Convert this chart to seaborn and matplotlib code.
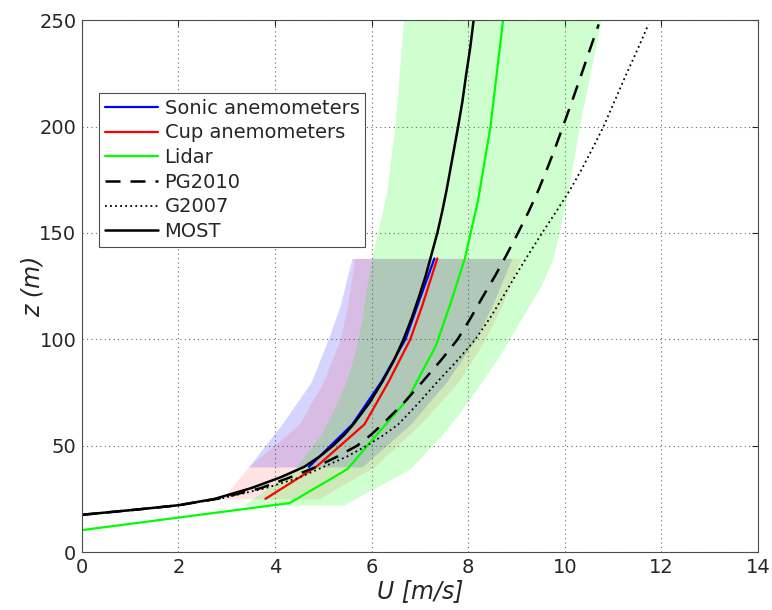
import matplotlib
matplotlib.use("Agg")
import matplotlib.pyplot as plt
import numpy as np
import pandas as pd
import seaborn as sns

# measured profiles (U in m/s, z in m)
sonic_z = [40, 60, 80, 100, 116, 138]
sonic_u = [4.7, 5.6, 6.2, 6.7, 6.95, 7.3]
sonic_lo = [3.45, 4.14, 4.75, 5.1, 5.35, 5.59]
sonic_hi = [5.8, 6.8, 7.55, 8.15, 8.5, 8.9]

cup_z = [25, 40, 60, 80, 100, 116, 138]
cup_u = [3.8, 4.85, 5.85, 6.35, 6.8, 7.05, 7.36]
cup_lo = [2.9, 3.45, 4.5, 5.0, 5.35, 5.5, 5.65]
cup_hi = [4.9, 6.05, 7.0, 7.8, 8.35, 8.7, 9.08]

lidar_z = [10.3, 23, 39, 55, 72, 85, 97, 118, 138, 165, 200, 250]
lidar_u = [0.0, 4.3, 5.5, 6.1, 6.75, 7.05, 7.33, 7.65, 7.93, 8.2, 8.46, 8.72]
lidar_band_z = [22, 39, 55, 66, 79, 93, 109, 125, 137, 150, 168, 200, 250]
lidar_lo = [3.35, 4.4, 4.95, 5.2, 5.45, 5.65, 5.8, 5.9, 6.0, 6.12, 6.3, 6.48, 6.66]
lidar_hi = [5.41, 6.79, 7.45, 7.84, 8.25, 8.67, 9.08, 9.5, 9.74, 9.88, 10.05, 10.3, 10.75]

# model profiles
model_z = [17.5, 20, 22, 25, 30, 35, 40, 45, 50, 55, 60, 70, 80, 90, 100, 110, 120, 130,
           140, 150, 160, 170, 180, 190, 200, 212, 225, 237, 248]
most_u = [0, 1.15, 2.0, 2.75, 3.5, 4.1, 4.6, 4.93, 5.2, 5.43, 5.62, 5.95, 6.22, 6.46, 6.66,
          6.83, 6.98, 7.12, 7.24, 7.36, 7.46, 7.55, 7.63, 7.71, 7.79, 7.88, 7.96, 8.04, 8.1]
pg2010_u = [0, 1.15, 2.0, 2.8, 3.7, 4.3, 4.85, 5.3, 5.7, 5.98, 6.22, 6.66, 7.05, 7.43, 7.78,
            8.05, 8.3, 8.56, 8.8, 9.03, 9.25, 9.45, 9.63, 9.8, 9.96, 10.15, 10.35, 10.53, 10.7]
g2007_u = [0, 1.15, 2.0, 2.85, 3.8, 4.5, 5.0, 5.5, 5.9, 6.25, 6.55, 6.97, 7.36, 7.77, 8.15,
           8.45, 8.72, 8.98, 9.25, 9.53, 9.82, 10.1, 10.35, 10.58, 10.8, 11.03, 11.28, 11.52, 11.73]
most_top_z = 260
most_top_u = 8.16

sns.set_style("white")
plt.rcParams['font.family'] = ['DejaVu Sans']

fig = plt.figure(figsize=(7.72, 6.10), dpi=100)
ax = fig.add_axes([0.106, 0.095, 0.876, 0.872])

# shaded bands
ax.fill_betweenx(sonic_z, sonic_lo, sonic_hi, color=(0, 0, 1), alpha=0.17, lw=0)
ax.fill_betweenx(cup_z, cup_lo, cup_hi, color=(1, 0, 0), alpha=0.11, lw=0)
ax.fill_betweenx(lidar_band_z, lidar_lo, lidar_hi, color=(0, 1, 0), alpha=0.19, lw=0)

sns.lineplot(x=sonic_u, y=sonic_z, sort=False, estimator=None, color=(0, 0, 1),
             lw=1.6, ax=ax, label="Sonic anemometers")
sns.lineplot(x=cup_u, y=cup_z, sort=False, estimator=None, color=(1, 0, 0),
             lw=1.6, ax=ax, label="Cup anemometers")
sns.lineplot(x=lidar_u, y=lidar_z, sort=False, estimator=None, color=(0, 1, 0),
             lw=1.6, ax=ax, label="Lidar")
sns.lineplot(x=pg2010_u, y=model_z, sort=False, estimator=None, color="black",
             lw=1.8, ax=ax, label="PG2010")
ax.lines[-1].set_dashes([6, 4])
sns.lineplot(x=g2007_u, y=model_z, sort=False, estimator=None, color="black",
             lw=1.3, ax=ax, label="G2007")
ax.lines[-1].set_dashes([1, 1.8])
sns.lineplot(x=most_u + [most_top_u], y=model_z + [most_top_z], sort=False, estimator=None,
             color="black", lw=1.8, ax=ax, label="MOST")

ax.set_xlim(0, 14)
ax.set_ylim(0, 250)
ax.set_xticks(np.arange(0, 15, 2))
ax.set_yticks(np.arange(0, 251, 50))
ax.grid(True, linestyle=(0, (1, 3)), color="0.4", lw=0.8)
ax.tick_params(direction="in", length=4, labelsize=14, top=True, right=True, pad=4)
for sp in ax.spines.values():
    sp.set_color("0.3")
    sp.set_linewidth(0.8)

ax.set_xlabel("U [m/s]", fontsize=17, style="italic", labelpad=2)
ax.set_ylabel("z (m)", fontsize=17, style="italic")
ax.yaxis.set_label_coords(-0.055, 0.5)

leg = ax.legend(loc="upper left", bbox_to_anchor=(0.026, 0.863), fontsize=14,
                handlelength=2.7, labelspacing=0.29, borderpad=0.3, handletextpad=0.35,
                fancybox=False, framealpha=1, edgecolor="0.3", borderaxespad=0)
leg.get_frame().set_linewidth(0.8)

fig.savefig("out.png", dpi=100)
